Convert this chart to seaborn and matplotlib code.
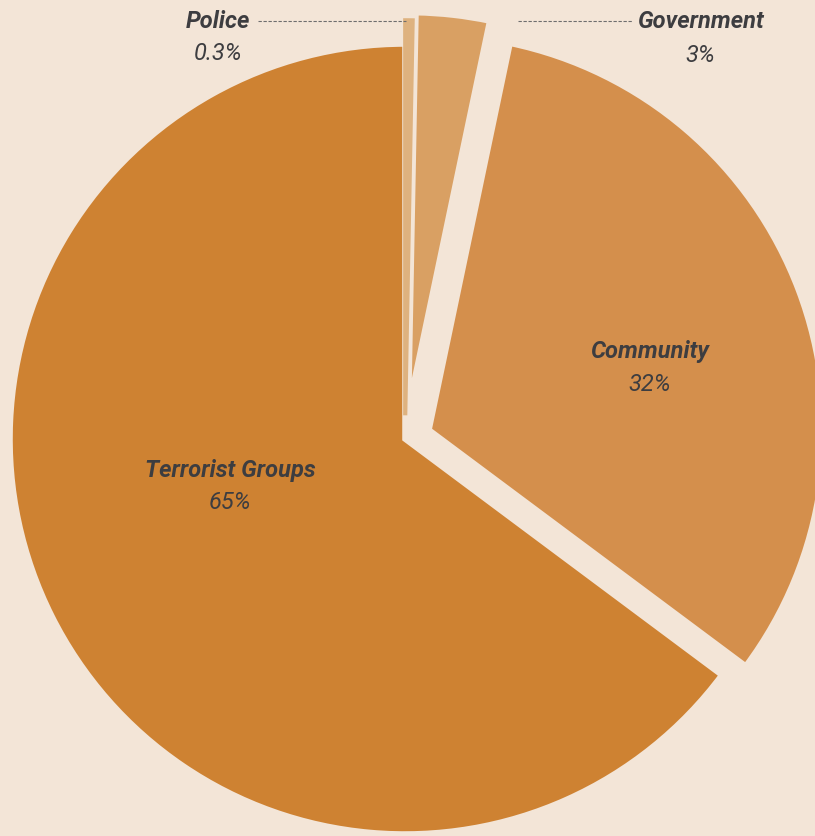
import matplotlib
matplotlib.use("Agg")
import matplotlib.pyplot as plt
import seaborn as sns
from matplotlib.lines import Line2D

# ---- data ----
categories = ["Police", "Government", "Community", "Terrorist Groups"]
shares = [0.3, 3, 32, 65]
pct_labels = ["0.3%", "3%", "32%", "65%"]
colors = ["#DEB27F", "#D9A063", "#D48F4C", "#CE8232"]
explode = [0.06, 0.08, 0.065, 0.0]

BG = "#F3E5D7"
TXT = "#3D3D40"

sns.set_theme(style="white", rc={"figure.facecolor": BG, "axes.facecolor": BG})
plt.rcParams["font.family"] = ["Roboto", "DejaVu Sans"]

W, H = 815, 837
fig = plt.figure(figsize=(W / 100, H / 100), dpi=100)
fig.patch.set_facecolor(BG)
ax = fig.add_axes([0, 0, 1, 1])
ax.set_facecolor(BG)

cx, cy, R = 405, 440, 395
wedges, _ = ax.pie(shares, colors=colors, startangle=90, counterclock=False,
                   explode=explode, radius=1,
                   wedgeprops=dict(edgecolor=BG, linewidth=4, joinstyle="miter"))
# keep the tiny police sliver visible
wedges[0].set_edgecolor(colors[0])
wedges[0].set_linewidth(3)
wedges[0].set_zorder(3)
ax.set_aspect("auto")
ax.set_xlim((0 - cx) / R, (W - cx) / R)
ax.set_ylim((cy - H) / R, (cy - 0) / R)
ax.axis("off")

def fx(px):
    return px / W

def fy(py):
    return 1 - py / H

name_kw = dict(fontsize=17, fontweight="bold", fontstyle="italic", color=TXT,
               ha="center", va="center")
pct_kw = dict(fontsize=17, fontstyle="italic", color=TXT, ha="center", va="center")

# label positions (pixels)
label_pos = {
    "Police": (218, 22, 53),
    "Government": (700, 22, 55),
    "Community": (650, 352, 385),
    "Terrorist Groups": (230, 471, 503),
}
for cat, pct in zip(categories, pct_labels):
    x, y1, y2 = label_pos[cat]
    fig.text(fx(x), fy(y1), cat, **name_kw)
    fig.text(fx(x), fy(y2), pct, **pct_kw)

# dashed connectors
for (x0, x1, y) in [(258, 406, 22), (518, 632, 22)]:
    fig.add_artist(Line2D([fx(x0), fx(x1)], [fy(y), fy(y)], transform=fig.transFigure,
                          color="#6E6E6E", linewidth=0.8, linestyle=(0, (3, 1.5))))

fig.savefig("out.png", dpi=100, facecolor=BG)
